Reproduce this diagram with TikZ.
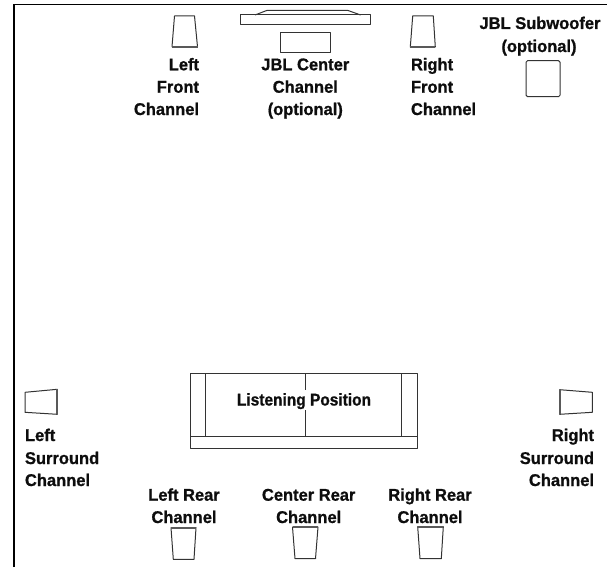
\documentclass[tikz,border=0pt]{standalone}
\usepackage{fontspec}
\setmainfont{Liberation Sans}
\newfontfamily\narrowfont[FakeStretch=0.97,BoldFeatures={FakeStretch=0.97,FakeBold=0.9}]{Liberation Sans}
\newfontfamily\listenfont[FakeStretch=0.91,BoldFeatures={FakeStretch=0.91,FakeBold=0.9}]{Liberation Sans}
\tikzset{
  x=1pt,y=-1pt,
  frameline/.style={draw=black,line width=1.8pt},
  shape line/.style={draw=black!80,line width=1pt,line join=round},
  heavy edge/.style={draw=black!65,line width=1.8pt},
  lbl/.style={inner sep=0pt,outer sep=0pt,text=black!95,font=\narrowfont\bfseries\fontsize{17}{22.4}\selectfont},
  lblC/.style={lbl,align=center,anchor=base},
  lblR/.style={lbl,align=right,anchor=base east},
  lblL/.style={lbl,align=left,anchor=base west}
}
\begin{document}
\begin{tikzpicture}
\useasboundingbox (0,0) rectangle (607,567);
% room outline
\draw[frameline] (14,567) -- (14,4.5) -- (607,4.5);
% front speakers
\draw[shape line] (174.5,16) -- (194.5,16) -- (197.5,46.7) -- (172,46.7) -- cycle;
\draw[heavy edge] (172,46.7) -- (197.5,46.7);
\draw[shape line] (412.7,16) -- (433.3,16) -- (435.3,47) -- (410.3,47) -- cycle;
\draw[heavy edge] (410.3,47) -- (435.3,47);
% television
\draw[shape line] (240.5,15) rectangle (370,24.7);
\draw[shape line] (255,15) -- (266.7,10.5) -- (348,10.5) -- (360.7,15);
% centre channel
\draw[shape line] (280.3,32.3) rectangle (330,52.3);
% subwoofer
\draw[shape line,rounded corners=1.5pt] (526,60.7) rectangle (560,96.7);
% surround speakers
\draw[shape line] (25,392.3) -- (57.3,389.3) -- (57.3,414.3) -- (25,412.3) -- cycle;
\draw[heavy edge] (57.3,389.3) -- (57.3,414.3);
\draw[shape line] (559.7,389.7) -- (592.3,392.3) -- (592.3,412.3) -- (559.7,414.3) -- cycle;
\draw[heavy edge] (559.7,389.7) -- (559.7,414.3);
% rear speakers
\draw[shape line] (171,527.7) -- (196,527.7) -- (194,559.3) -- (173.3,559.3) -- cycle;
\draw[heavy edge] (171,527.7) -- (196,527.7);
\draw[shape line] (292.5,527) -- (318,527) -- (315.5,558.7) -- (295,558.7) -- cycle;
\draw[heavy edge] (292.5,527) -- (318,527);
\draw[shape line] (417.7,526.7) -- (443.3,526.7) -- (441.3,558.7) -- (420,558.7) -- cycle;
\draw[heavy edge] (417.7,526.7) -- (443.3,526.7);
% sofa
\draw[shape line] (190.7,373.3) rectangle (417,448.7);
\draw[shape line] (190.7,436.3) -- (417,436.3);
\draw[shape line] (205.7,373.3) -- (205.7,436.3);
\draw[shape line] (305,373.3) -- (305,390);
\draw[shape line] (305,410) -- (305,436.3);
\draw[shape line] (401.7,373.3) -- (401.7,436.3);
% labels
\node[lblR] (leftfront) at (199,70.3) {Left};
\node[lblR] (leftfront2) at (199,92.7) {Front};
\node[lblR] (leftfront3) at (199,115) {Channel};
\node[lblC] (center1) at (305.3,70.3) {JBL Center};
\node[lblC] (center2) at (305.3,92.7) {Channel};
\node[lblC] (center3) at (305.3,115) {(optional)};
\node[lblL] (rightfront) at (411,70.3) {Right};
\node[lblL] (rightfront2) at (411,92.7) {Front};
\node[lblL] (rightfront3) at (411,115) {Channel};
\node[lblC] (sub1) at (540,29) {JBL Subwoofer};
\node[lblC] (sub2) at (539,52) {(optional)};
\node[lbl,anchor=base,font=\listenfont\bfseries\fontsize{17}{22.4}\selectfont] (listen) at (304,405.5) {Listening Position};
\node[lblL] (ls1) at (25,441) {Left};
\node[lblL] (ls2) at (25,464) {Surround};
\node[lblL] (ls3) at (25,486) {Channel};
\node[lblR] (rs1) at (594,441) {Right};
\node[lblR] (rs2) at (594,464) {Surround};
\node[lblR] (rs3) at (594,486) {Channel};
\node[lblC] (lr1) at (184,500.7) {Left Rear};
\node[lblC] (lr2) at (184,523) {Channel};
\node[lblC] (cr1) at (308.7,500.7) {Center Rear};
\node[lblC] (cr2) at (308.7,523) {Channel};
\node[lblC] (rr1) at (430,500.7) {Right Rear};
\node[lblC] (rr2) at (430,523) {Channel};
\end{tikzpicture}
\end{document}
